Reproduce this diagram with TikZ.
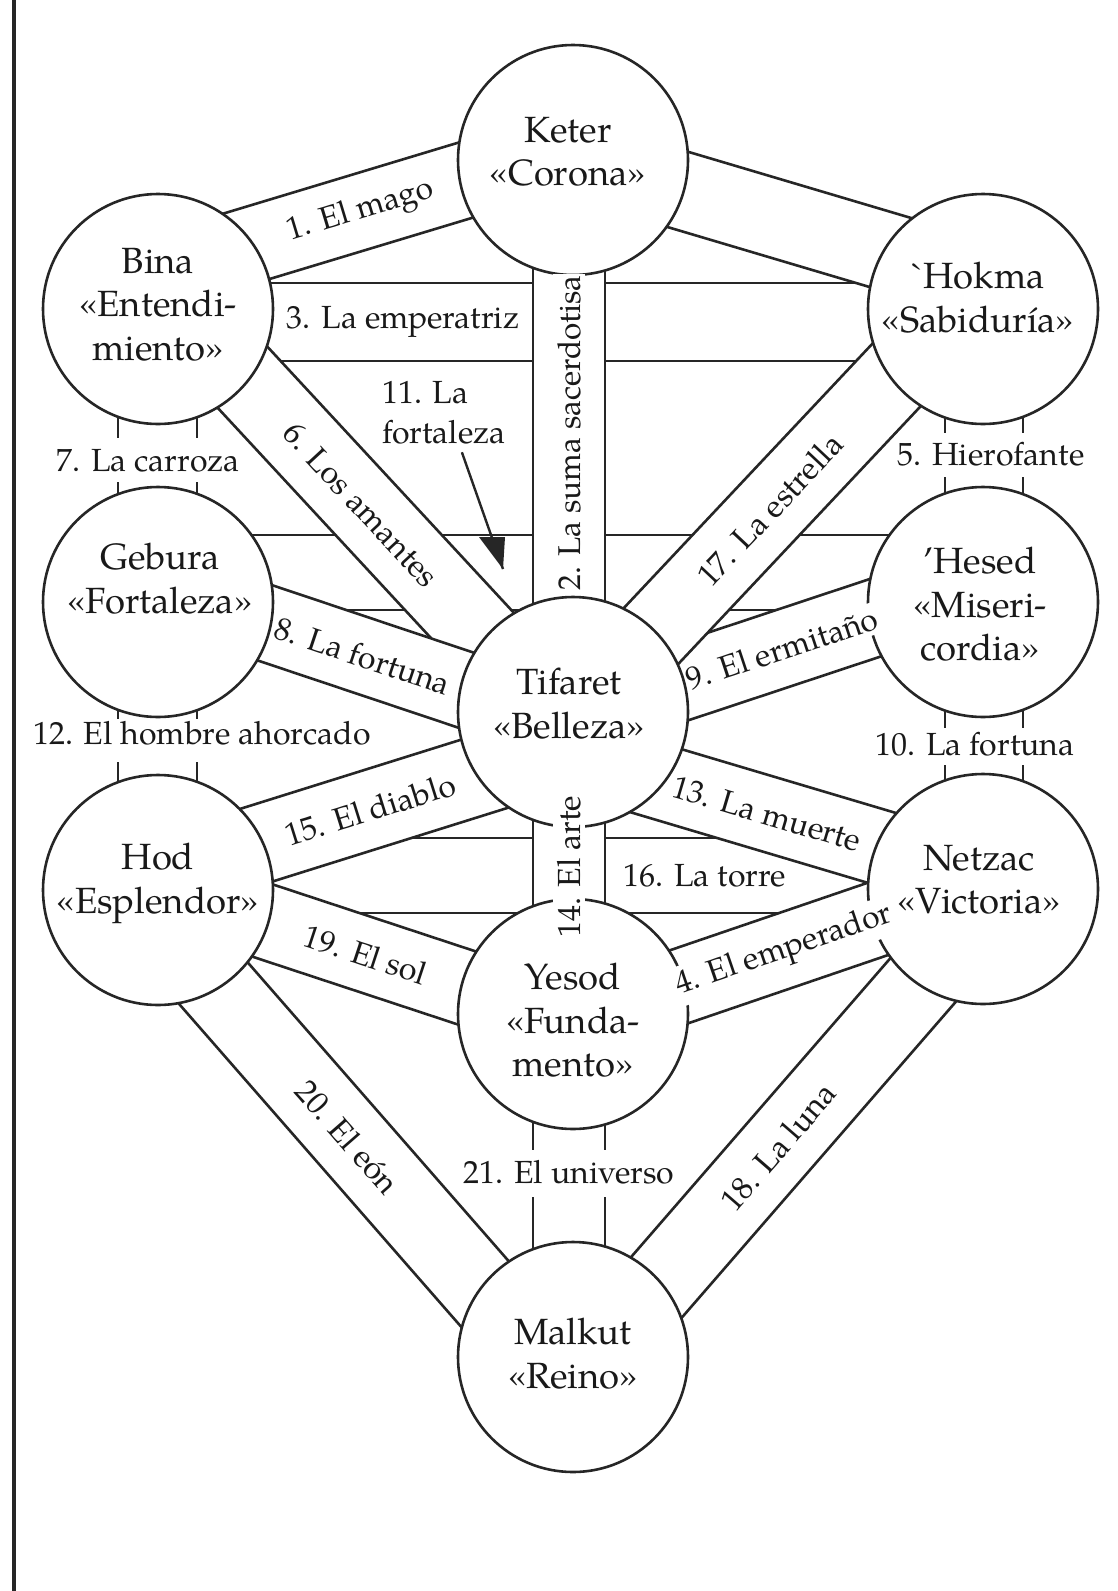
\documentclass[tikz,border=0pt]{standalone}
\usepackage{fontspec}
\setmainfont{TeX Gyre Pagella}
\newfontfamily\nomap{TeX Gyre Pagella}
\usetikzlibrary{calc}
\pgfdeclarelayer{bands}
\pgfdeclarelayer{labels}
\pgfsetlayers{bands,main,labels}
\newcommand\sefband[3]{%
  \fill[white] ($(#1)!#3!90:(#2)$) -- ($(#2)!#3!-90:(#1)$) -- ($(#2)!#3!90:(#1)$) -- ($(#1)!#3!-90:(#2)$) -- cycle;
  \draw[ln] ($(#1)!#3!90:(#2)$) -- ($(#2)!#3!-90:(#1)$);
  \draw[ln] ($(#1)!#3!-90:(#2)$) -- ($(#2)!#3!90:(#1)$);
}
\begin{document}
\begin{tikzpicture}[x=1pt,y=-1pt,
  ln/.style={line width=2.6pt, draw=black!85},
  sef/.style={circle, draw=black!85, line width=2.6pt, fill=white, minimum size=230pt, inner sep=0pt},
  seftext/.style={anchor=north, inner sep=0pt, align=center, text=black!90, font=\fontsize{36.5}{43.5}\selectfont},
  lab/.style={fill=white, inner xsep=1pt, inner ysep=4pt, text=black!90, font=\fontsize{32}{40}\selectfont},
  stublab/.style={inner sep=0pt, text=black!90, font=\fontsize{32}{40}\selectfont},
]
\useasboundingbox (0,0) rectangle (1117,1591);
\draw[line width=4pt, black!85] (14,0) -- (14,1591);

% sefirot
\node[sef] (keter)   at (573,160)  {};
\node[sef] (bina)    at (158,309)  {};
\node[sef] (hokma)   at (983,309)  {};
\node[sef] (gebura)  at (158,602)  {};
\node[sef] (hesed)   at (983,602)  {};
\node[sef] (tifaret) at (573,712)  {};
\node[sef] (hod)     at (158,890)  {};
\node[sef] (netzac)  at (983,889)  {};
\node[sef] (yesod)   at (573,1014) {};
\node[sef] (malkut)  at (573,1357) {};

\node[seftext] (keter-t)   at ($(keter.center)+(-5,-43)$)   {Keter\\«Corona»};
\node[seftext] (bina-t)    at ($(bina.center)+(0,-61)$)     {Bina\\«Entendi-\\miento»};
\node[seftext] (hokma-t)   at ($(hokma.center)+(-5,-47)$)   {{\nomap`}Hokma\\«Sabiduría»};
\node[seftext] (gebura-t)  at ($(gebura.center)+(2,-59)$)   {Gebura\\«Fortaleza»};
\node[seftext] (hesed-t)   at ($(hesed.center)+(-3,-55)$)   {’Hesed\\«Miseri-\\cordia»};
\node[seftext] (tifaret-t) at ($(tifaret.center)+(-4,-44)$) {Tifaret\\«Belleza»};
\node[seftext] (hod-t)     at ($(hod.center)+(0,-47)$)      {Hod\\«Esplendor»};
\node[seftext] (netzac-t)  at ($(netzac.center)+(-4,-44)$)  {Netzac\\«Victoria»};
\node[seftext] (yesod-t)   at ($(yesod.center)+(0,-51)$)    {Yesod\\«Funda-\\mento»};
\node[seftext] (malkut-t)  at ($(malkut.center)+(0,-39)$)   {Malkut\\«Reino»};

\begin{pgfonlayer}{bands}
% band end points
\coordinate (b11a) at ($(gebura.center)+(0,-29.5)$);
\coordinate (b11b) at ($(hesed.center)+(0,-29.5)$);
\coordinate (b16a) at ($(hod.center)+(0,-14.5)$);
\coordinate (b16b) at ($(netzac.center)+(0,-13.5)$);
\coordinate (b3a)  at ($(bina.center)+(0,13)$);
\coordinate (b3b)  at ($(hokma.center)+(0,13)$);
\coordinate (b2a)  at ($(keter.center)+(-4,0)$);
\coordinate (b2b)  at ($(tifaret.center)+(-4,0)$);
\coordinate (b14a) at ($(tifaret.center)+(-4,0)$);
\coordinate (b14b) at ($(yesod.center)+(-4,0)$);
\coordinate (b1a)  at ($(bina.center)+(0,-36)$);
\coordinate (b1b)  at ($(keter.center)+(-1,-12)$);
\coordinate (bkha) at ($(keter.center)+(-1,-2)$);
\coordinate (bkhb) at ($(hokma.center)+(0,-29)$);
\coordinate (b6a)  at ($(bina.center)+(0,-23)$);
\coordinate (b6b)  at ($(tifaret.center)+(0,22)$);
\coordinate (b8a)  at ($(gebura.center)+(0,-15)$);
\coordinate (b8b)  at ($(tifaret.center)+(0,14)$);
\coordinate (b9a)  at ($(tifaret.center)+(0,6)$);
\coordinate (b9b)  at ($(hesed.center)+(0,-20)$);
\coordinate (b17a) at ($(tifaret.center)+(0,7)$);
\coordinate (b17b) at ($(hokma.center)+(0,-26)$);
\coordinate (b13a) at ($(tifaret.center)+(0,44)$);
\coordinate (b13b) at ($(netzac.center)+(0,-11)$);
\coordinate (b15a) at ($(hod.center)+(0,-14)$);
\coordinate (b15b) at ($(tifaret.center)+(0,34)$);
\coordinate (b19a) at ($(hod.center)+(0,-4)$);
\coordinate (b19b) at ($(yesod.center)+(0,9)$);
\coordinate (b4a)  at ($(yesod.center)+(0,9)$);
\coordinate (b4b)  at ($(netzac.center)+(0,-6)$);
\coordinate (b18a) at ($(netzac.center)+(19,0)$);
\coordinate (b18b) at ($(malkut.center)+(23,0)$);
\coordinate (b20a) at ($(hod.center)+(-26,0)$);
\coordinate (b20b) at ($(malkut.center)+(-33,0)$);
% bands, bottom to top
\sefband{b11a}{b11b}{37.5pt}
\sefband{b16a}{b16b}{37.5pt}
\sefband{b3a}{b3b}{39pt}
\sefband{b2a}{b2b}{36pt}
\sefband{b14a}{b14b}{36pt}
\sefband{b1a}{b1b}{38pt}
\sefband{bkha}{bkhb}{39pt}
\sefband{b6a}{b6b}{39pt}
\sefband{b8a}{b8b}{38pt}
\sefband{b9a}{b9b}{38.5pt}
\sefband{b17a}{b17b}{39pt}
\sefband{b13a}{b13b}{37.5pt}
\sefband{b15a}{b15b}{39.5pt}
\sefband{b19a}{b19b}{37.5pt}
\sefband{b4a}{b4b}{37.5pt}
\sefband{b18a}{b18b}{39pt}
\sefband{b20a}{b20b}{39.5pt}
% short stubs
\draw[ln] ($(bina.center)+(-40,0)$) -- ++(0,129);
\draw[ln] ($(bina.center)+(39,0)$) -- ++(0,129);
\draw[ln] ($(gebura.center)+(-40,0)$) -- ++(0,-120);
\draw[ln] ($(gebura.center)+(39,0)$) -- ++(0,-120);
\draw[ln] ($(gebura.center)+(-40,0)$) -- ++(0,117);
\draw[ln] ($(gebura.center)+(39,0)$) -- ++(0,117);
\draw[ln] ($(hod.center)+(-40,0)$) -- ++(0,-128);
\draw[ln] ($(hod.center)+(39,0)$) -- ++(0,-128);
\draw[ln] ($(hokma.center)+(-38,0)$) -- ++(0,124);
\draw[ln] ($(hokma.center)+(40,0)$) -- ++(0,124);
\draw[ln] ($(hesed.center)+(-38,0)$) -- ++(0,-125);
\draw[ln] ($(hesed.center)+(40,0)$) -- ++(0,-125);
\draw[ln] ($(hesed.center)+(-38,0)$) -- ++(0,126);
\draw[ln] ($(hesed.center)+(40,0)$) -- ++(0,126);
\draw[ln] ($(netzac.center)+(-38,0)$) -- ++(0,-124);
\draw[ln] ($(netzac.center)+(40,0)$) -- ++(0,-124);
\draw[ln] ($(yesod.center)+(-40,0)$) -- ++(0,136);
\draw[ln] ($(yesod.center)+(32,0)$) -- ++(0,136);
\draw[ln] ($(malkut.center)+(-40,0)$) -- ++(0,-160);
\draw[ln] ($(malkut.center)+(32,0)$) -- ++(0,-160);
\end{pgfonlayer}

\begin{pgfonlayer}{labels}
\path (b1a) -- node[lab, sloped, pos=0.49] (l1) {1. El mago} (b1b);
\path (b3a) -- node[lab, pos=0.297] (l3) {3. La emperatriz} (b3b);
\path (b2a) -- node[lab, rotate=90, pos=0.4946, font=\fontsize{31.5}{40}\selectfont] (l2) {2. La suma sacerdotisa} (b2b);
\path (b14a) -- node[lab, rotate=90, pos=0.513] (l14) {14. El arte} (b14b);
\path (b6a) -- node[lab, sloped, pos=0.489] (l6) {6. Los amantes} (b6b);
\path (b8a) -- node[lab, sloped, pos=0.494] (l8) {8. La fortuna} (b8b);
\path (b9a) -- node[lab, sloped, pos=0.51] (l9) {9. El ermitaño} (b9b);
\path (b17a) -- node[lab, sloped, pos=0.48] (l17) {17. La estrella} (b17b);
\path (b13a) -- node[lab, sloped, pos=0.473] (l13) {13. La muerte} (b13b);
\path (b15a) -- node[lab, sloped, pos=0.511] (l15) {15. El diablo} (b15b);
\path (b16a) -- node[lab, pos=0.663] (l16) {16. La torre} (b16b);
\path (b19a) -- node[lab, sloped, pos=0.50] (l19) {19. El sol} (b19b);
\path (b4a) -- node[lab, sloped, pos=0.515] (l4) {4. El emperador} (b4b);
\path (b20a) -- node[lab, sloped, pos=0.529] (l20) {20. El eón} (b20b);
\path (b18a) -- node[lab, sloped, pos=0.551] (l18) {18. La luna} (b18b);

\node[stublab] (l7)  at (148,461)  {7. La carroza};
\node[stublab] (l12) at (202,733)  {12. El hombre ahorcado};
\node[stublab] (l5)  at (991,454)  {5. Hierofante};
\node[stublab] (l10) at (975,744)  {10. La fortuna};
\node[stublab] (l21) at (569,1172) {21. El universo};

\node[stublab, align=left, anchor=north west] (l11) at (382,381) {11. La\\fortaleza};
\coordinate (tip11) at (503,569);
\draw[line width=2.4pt, black!85] ($(l11.south)+(18,8)$) -- (tip11);
\fill[black!85] ($(tip11)+(-24,-32)$) -- ($(tip11)+(2,-32)$) -- (tip11) -- cycle;
\end{pgfonlayer}
\end{tikzpicture}
\end{document}
